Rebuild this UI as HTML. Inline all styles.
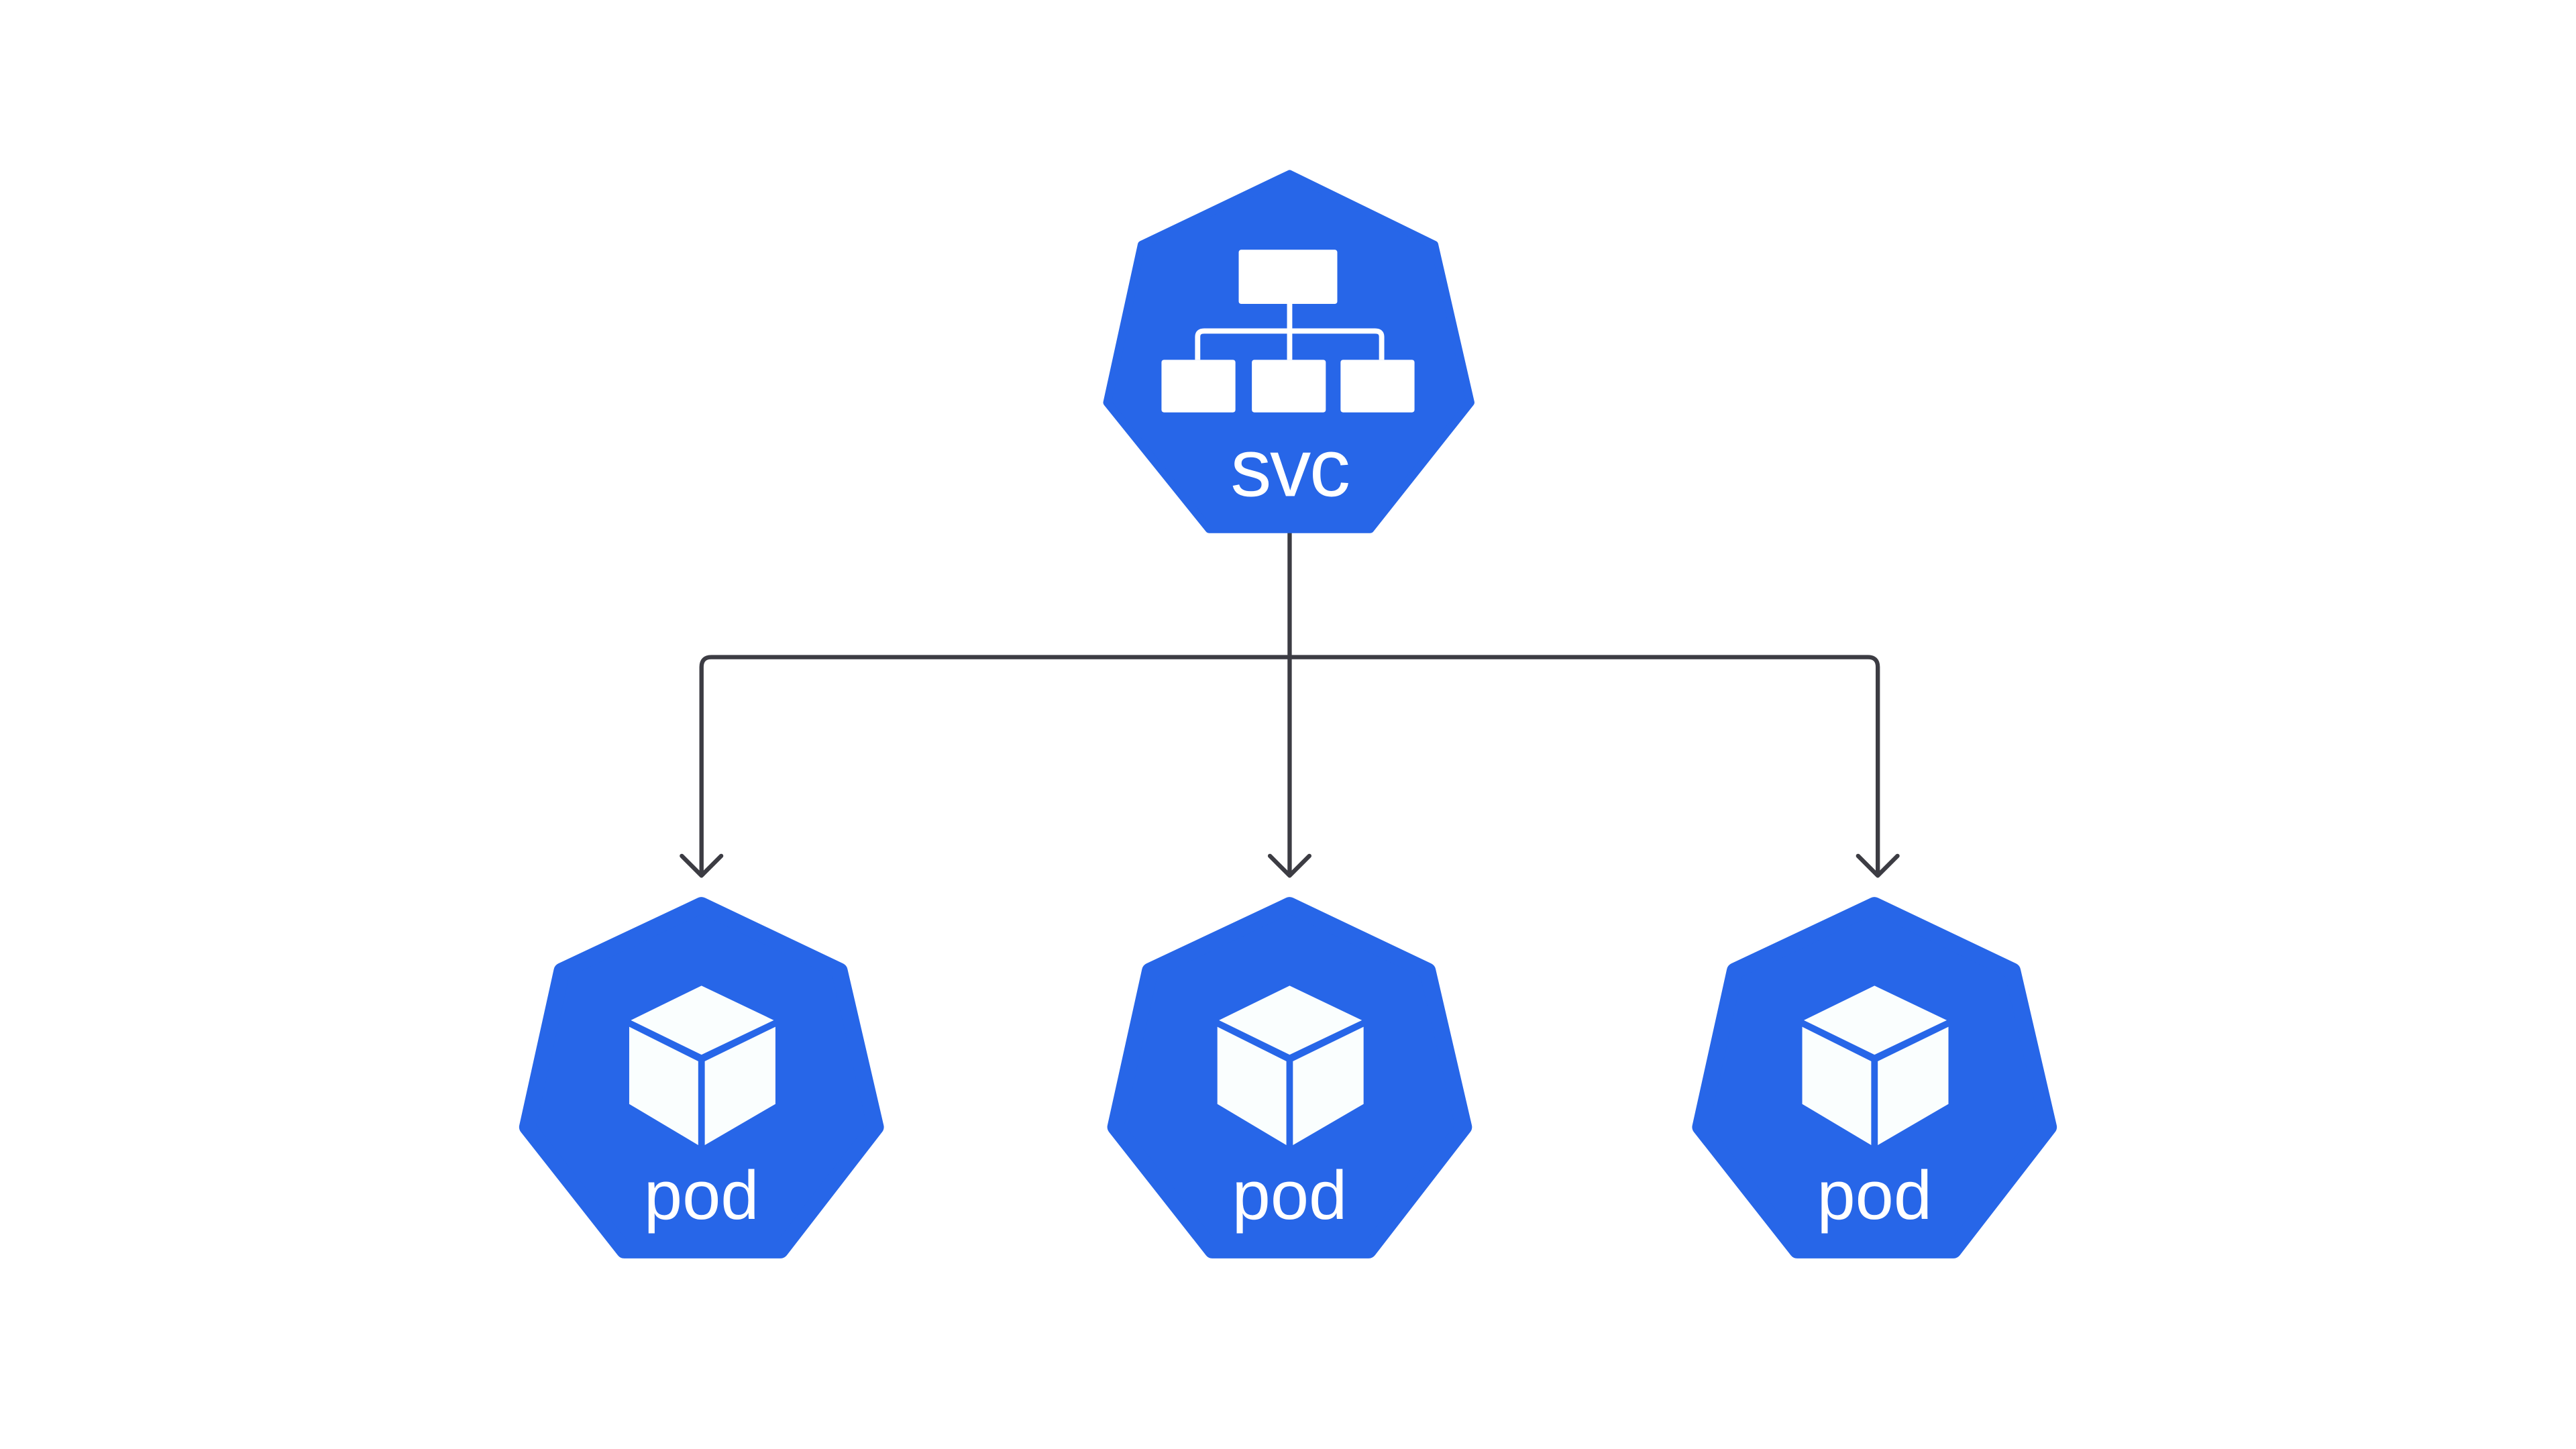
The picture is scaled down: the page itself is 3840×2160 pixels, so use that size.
<!DOCTYPE html>
<html><head><meta charset="utf-8"><style>
html,body{margin:0;padding:0;background:#fff;}
svg{display:block;}
text{font-family:"Liberation Sans",sans-serif;fill:#fff;}
</style></head><body>
<svg width="3840" height="2160" viewBox="0 0 1568 882" xmlns="http://www.w3.org/2000/svg">
<rect width="1568" height="882" fill="#fff"/>
<g fill="none" stroke="#3c3c43" stroke-width="2.6" stroke-linecap="round" stroke-linejoin="round">
<line x1="785" y1="323" x2="785" y2="532"/>
<path d="M785 400 H433 Q427 400 427 406 V532"/>
<path d="M785 400 H1137 Q1143 400 1143 406 V532"/>
<polyline points="415,521 427,533 439,521"/>
<polyline points="773,521 785,533 797,521"/>
<polyline points="1131,521 1143,533 1155,521"/>
</g>
<polygon points="785,106 873,149 895,245 834,322 736,322 674,245 695,149" fill="#2766e8" stroke="#2766e8" stroke-width="5" stroke-linejoin="round"/>
<g fill="#fff">
<rect x="754" y="152" width="60" height="33" rx="1.5"/>
<rect x="707" y="219" width="45" height="32" rx="1.5"/>
<rect x="762" y="219" width="45" height="32" rx="1.5"/>
<rect x="816" y="219" width="45" height="32" rx="1.5"/>
</g>
<g fill="none" stroke="#fff" stroke-width="3.2">
<line x1="785" y1="185" x2="785" y2="219"/>
<path d="M729 219 V205 Q729 201.5 733 201.5 H837 Q841 201.5 841 205 V219"/>
</g>
<text x="785" y="302" font-size="50" text-anchor="middle" letter-spacing="-1">svc</text>
<g id="pod">
<polygon points="427,551 511,591 533,686 475,761 380,761 321,686 342,591" fill="#2766e8" stroke="#2766e8" stroke-width="10" stroke-linejoin="round"/>
<g fill="#fafefe">
<polygon points="427,600 471,621 427,642 384,621"/>
<polygon points="383,625 425,646 425,697 383,672"/>
<polygon points="429,646 472,625 472,672 429,697"/>
</g>
<text x="427" y="742" font-size="42" text-anchor="middle">pod</text>
</g>
<use href="#pod" x="358"/>
<use href="#pod" x="714"/>
</svg>
</body></html>
